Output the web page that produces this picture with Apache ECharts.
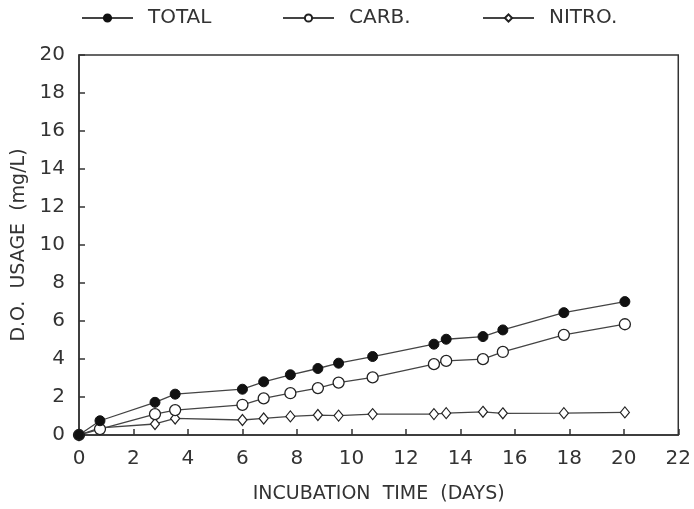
<!DOCTYPE html>
<html><head><meta charset="utf-8">
<script src="https://cdn.jsdelivr.net/npm/echarts@6/dist/echarts.min.js"></script>
<style>html,body{margin:0;padding:0;background:#fff}#c{width:694px;height:509px}</style>
</head><body><div id="c"></div>
<script>
const days = [0, 0.77, 2.79, 3.53, 6.0, 6.78, 7.76, 8.77, 9.53, 10.78, 13.03, 13.48, 14.83, 15.56, 17.8, 20.04];
const total = [0, 0.75, 1.72, 2.15, 2.41, 2.8, 3.17, 3.5, 3.78, 4.13, 4.78, 5.04, 5.18, 5.53, 6.44, 7.02];
const carb  = [0, 0.31, 1.1, 1.31, 1.59, 1.93, 2.2, 2.47, 2.76, 3.03, 3.73, 3.9, 3.99, 4.37, 5.27, 5.83];
const nitro = [0, 0.37, 0.58, 0.87, 0.79, 0.87, 0.98, 1.05, 1.02, 1.1, 1.1, 1.15, 1.22, 1.14, 1.15, 1.19];
const xTicks = [0, 22, 2];
const yTicks = [0, 20, 2];

const pair = a => days.map((d, i) => [d, a[i]]);
const font = 'DejaVu Sans';
const txt = '#333';
const chart = echarts.init(document.getElementById('c'));
const legendBase = {top: 3, itemWidth: 51, itemHeight: 9,
  textStyle: {fontFamily: font, fontSize: 20, color: txt, padding: [0, 0, 0, 10]}};
chart.setOption({
  animation: false,
  legend: [
    Object.assign({}, legendBase, {left: 76, data: ['TOTAL']}),
    Object.assign({}, legendBase, {left: 277, data: ['CARB.']}),
    Object.assign({}, legendBase, {left: 477, data: ['NITRO.']})
  ],
  grid: {left: 79, right: 13, top: 55, bottom: 73, show: true, borderColor: '#333', borderWidth: 1.5, backgroundColor: 'transparent'},
  xAxis: {
    type: 'value', min: xTicks[0], max: xTicks[1], interval: xTicks[2],
    name: 'INCUBATION  TIME  (DAYS)', nameLocation: 'middle', nameGap: 50,
    nameTextStyle: {fontFamily: font, fontSize: 19, color: txt},
    axisLine: {lineStyle: {color: '#333', width: 1.5}},
    axisTick: {inside: true, length: 6, lineStyle: {color: '#333', width: 1.5}},
    axisLabel: {fontFamily: font, fontSize: 20, color: txt, margin: 14},
    splitLine: {show: false}
  },
  yAxis: {
    type: 'value', min: yTicks[0], max: yTicks[1], interval: yTicks[2],
    name: 'D.O.  USAGE  (mg/L)', nameLocation: 'middle', nameGap: 45,
    nameTextStyle: {fontFamily: font, fontSize: 19, color: txt},
    axisLine: {lineStyle: {color: '#333', width: 1.5}},
    axisTick: {inside: true, length: 6, lineStyle: {color: '#333', width: 1.5}},
    axisLabel: {fontFamily: font, fontSize: 20, color: txt, margin: 14},
    splitLine: {show: false}
  },
  series: [
    {name: 'TOTAL', type: 'line', data: pair(total), symbol: 'circle', symbolSize: 10,
     itemStyle: {color: '#111', borderColor: '#111', borderWidth: 1}, lineStyle: {color: '#444', width: 1.3}, z: 3},
    {name: 'CARB.', type: 'line', data: pair(carb), symbol: 'circle', symbolSize: 11,
     itemStyle: {color: '#fff', borderColor: '#222', borderWidth: 1.3}, lineStyle: {color: '#444', width: 1.3}, z: 2},
    {name: 'NITRO.', type: 'line', data: pair(nitro), symbol: 'diamond', symbolSize: [9, 11],
     itemStyle: {color: '#fff', borderColor: '#222', borderWidth: 1.2}, lineStyle: {color: '#444', width: 1.3}, z: 1}
  ]
});
</script></body></html>
